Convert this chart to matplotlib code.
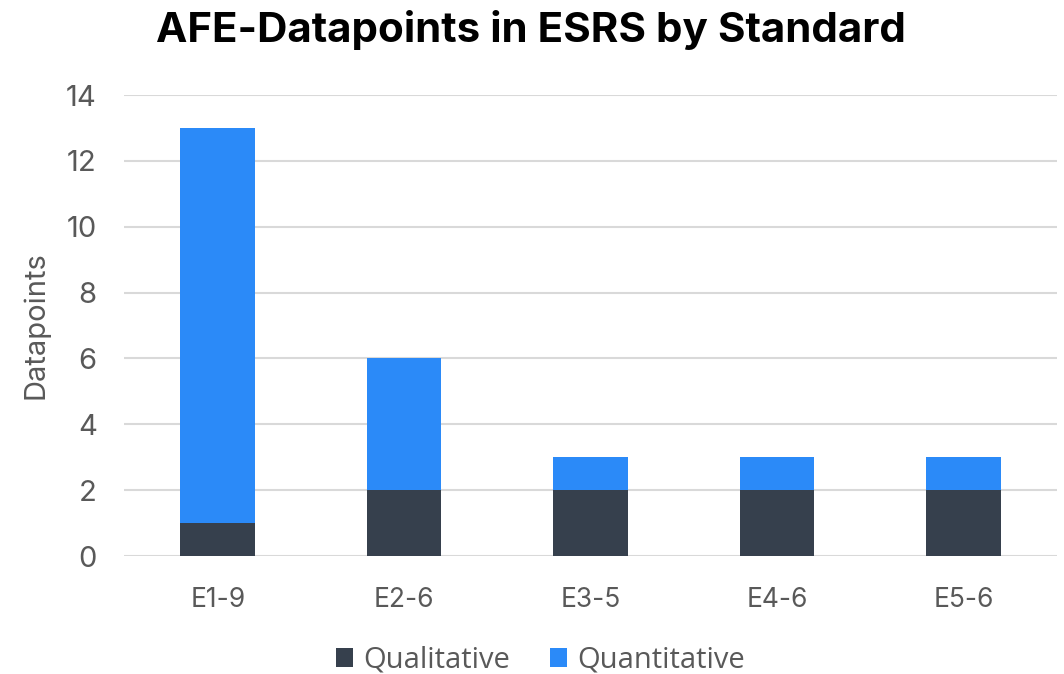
import matplotlib
matplotlib.use("Agg")
import matplotlib.pyplot as plt
import numpy as np

# data
standards = ["E1-9", "E2-6", "E3-5", "E4-6", "E5-6"]
qualitative = [1, 2, 2, 2, 2]
quantitative = [12, 4, 1, 1, 1]

dark = "#36404D"
blue = "#2B8AF8"
grey = "#595959"

plt.rcParams["font.family"] = ["Inter", "DejaVu Sans"]

fig = plt.figure(figsize=(10.64, 6.74), dpi=100)
ax = fig.add_axes([0.117, 0.175, 0.876, 0.684])

x = np.arange(len(standards))
ax.bar(x, qualitative, width=0.4, color=dark, label="Qualitative", zorder=3)
ax.bar(x, quantitative, width=0.4, bottom=qualitative, color=blue,
       label="Quantitative", zorder=3)

ax.set_xlim(-0.5, len(standards) - 0.5)
ax.set_ylim(0, 14)
ax.set_yticks(range(0, 15, 2))
ax.set_xticks(x)
ax.set_xticklabels(standards)
ax.grid(axis="y", color="#D9D9D9", linewidth=1.5, zorder=0)
for s in ax.spines.values():
    s.set_visible(False)
ax.tick_params(length=0, colors=grey)
ax.tick_params(axis="x", labelsize=19, pad=22)
ax.tick_params(axis="y", labelsize=21, pad=20)
ax.set_ylabel("Datapoints", fontsize=21, color=grey, labelpad=12)

fig.text(0.499, 0.955, "AFE-Datapoints in ESRS by Standard", ha="center",
         va="center", fontsize=30.3, fontweight="bold", color="black")

leg = fig.legend(loc="lower center", bbox_to_anchor=(0.508, -0.04), ncol=2,
                 frameon=False, handlelength=0.6, handleheight=0.6,
                 columnspacing=1.35, handletextpad=0.35,
                 prop={"family": ["Open Sans", "DejaVu Sans"], "size": 21})
for t in leg.get_texts():
    t.set_color(grey)

fig.savefig("out.png", dpi=100)
